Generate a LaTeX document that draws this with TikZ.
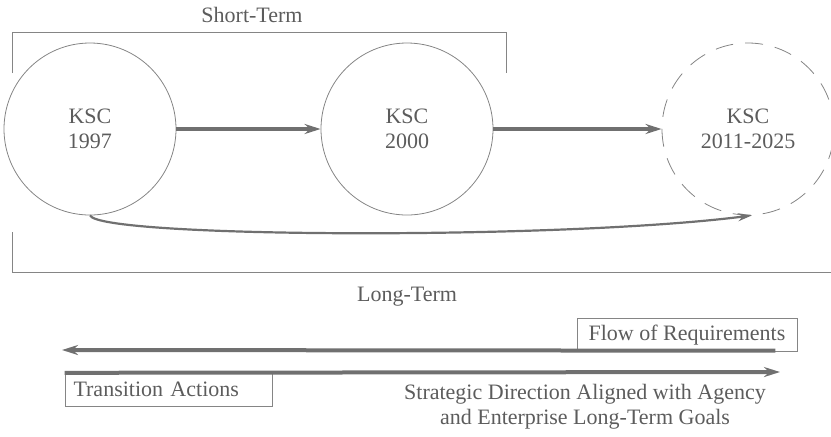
\documentclass[tikz,border=0pt]{standalone}
\usepackage{fontspec}
\setmainfont{Liberation Serif}
\usepackage{xcolor}
\usepackage{tikz}
\usetikzlibrary{positioning}
\usetikzlibrary{arrows.meta}
\definecolor{ashgray}{rgb}{0.44, 0.44, 0.44}
\definecolor{lightash}{rgb}{0.52, 0.52, 0.52}
\definecolor{inkgray}{rgb}{0.36, 0.36, 0.36}
\tikzset{%
  stagecirc/.style={circle,draw=lightash,thin,minimum size=86pt,inner sep=0pt,align=center,text=inkgray}
}
\tikzset{%
  futurecirc/.style={stagecirc,dash pattern=on 9pt off 6pt}
}
\tikzset{%
  stagearrow/.style={draw=ashgray,line width=1.6pt,-{Stealth[length=8pt,width=5pt]}}
}
\tikzset{%
  flowbox/.style={rectangle,draw=lightash,thin,inner sep=3pt,text=inkgray}
}
\newcommand\ksctext{\fontsize{11}{12.3}\selectfont}

\begin{document}
\begin{tikzpicture}[x=0.5pt,y=-0.5pt,font=\ksctext]
            \useasboundingbox (0,0) rectangle (831,436);
            \node[stagecirc](y1997) at (90,129){KSC\\1997};
            \node[stagecirc](y2000) at (407,129){KSC\\2000};
            \node[futurecirc](y2025) at (748,129){KSC\\2011-2025};

            \draw[stagearrow] (y1997) -- (y2000);
            \draw[stagearrow] (y2000) -- (y2025);
            \draw[draw=ashgray,line width=1.1pt,-{Stealth[length=7pt,width=4pt]}]
                (y1997.south) .. controls (100,238) and (560,240) .. ([xshift=2pt]y2025.south);

            % brackets
            \draw[lightash,thin] (12,73) |- (506,32) -- (506,73);
            \node[text=inkgray](shortlabel) at (252,15){Short-Term};
            \draw[lightash,thin] (12,232) |- (831,272);
            \node[text=inkgray](longlabel) at (407,297){Long-Term};

            % requirements and actions
            \node[flowbox,minimum width=110pt,minimum height=16.5pt](flow) at (687,335){Flow of Requirements};
            \coordinate (reqend) at (62,350);
            \draw[stagearrow,line width=2pt] ([xshift=-11pt,yshift=0.6pt]flow.south east) -- (reqend);

            \node[flowbox,inner xsep=4.25pt,text width=95pt,align=left,minimum height=17pt](trans) at (168.5,389){Transition Actions};
            \coordinate (stratend) at (780,372);
            \draw[stagearrow,line width=2pt] ([yshift=-0.6pt]trans.north west) -- (stratend);
            \node[text=inkgray,align=center](strat) at (585,407){Strategic Direction Aligned with Agency\\and Enterprise Long-Term Goals};
        \end{tikzpicture}
\end{document}
